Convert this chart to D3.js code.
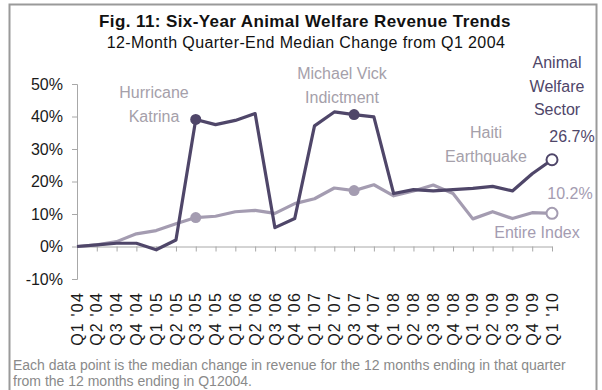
<!DOCTYPE html>
<html>
<head>
<meta charset="utf-8">
<script src="https://cdn.jsdelivr.net/npm/d3@7"></script>
<style>
  html, body { margin: 0; padding: 0; background: #fff; }
  svg { display: block; font-family: "Liberation Sans", Arial, sans-serif; }
</style>
</head>
<body>
<svg id="chart" width="602" height="390"></svg>
<script>
// Quarter-end labels
const quarters = [
  "Q1 '04", "Q2 '04", "Q3 '04", "Q4 '04",
  "Q1 '05", "Q2 '05", "Q3 '05", "Q4 '05",
  "Q1 '06", "Q2 '06", "Q3 '06", "Q4 '06",
  "Q1 '07", "Q2 '07", "Q3 '07", "Q4 '07",
  "Q1 '08", "Q2 '08", "Q3 '08", "Q4 '08",
  "Q1 '09", "Q2 '09", "Q3 '09", "Q4 '09",
  "Q1 '10"
];

// 12-month median revenue change vs Q1 2004 (percent)
const animalWelfare = [
  0, 0.5, 1.0, 1.0, -1.0, 2.0, 39.1, 37.5, 38.8, 40.9, 5.8, 8.6,
  37.1, 41.4, 40.6, 39.9, 16.3, 17.5, 17.1, 17.5, 17.9, 18.5, 17.1, 22.4, 26.7
];
const entireIndex = [
  0, 0.5, 1.5, 3.9, 4.9, 7.0, 8.9, 9.3, 10.7, 11.1, 10.2, 13.2,
  14.7, 18.0, 17.2, 19.0, 15.6, 17.1, 18.9, 16.3, 8.5, 10.7, 8.6, 10.4, 10.2
];

// Y-axis ticks (percent)
const yTicks = [-10, 0, 10, 20, 30, 40, 50];

// Highlighted events (quarter index)
const eventQuarters = [6, 14];

const darkColor = "#4f4669";
const lightColor = "#a49cb1";
const noteColor = "#a5a0aa";

const svg = d3.select("#chart");

// Outer frame
svg.append("rect")
  .attr("x", 9.5).attr("y", 4.5)
  .attr("width", 587).attr("height", 390)
  .attr("fill", "#fff")
  .attr("stroke", "#9a9a9a")
  .attr("stroke-width", 2);

// Titles
svg.append("text")
  .attr("x", 305).attr("y", 27)
  .attr("text-anchor", "middle")
  .attr("font-size", 17).attr("font-weight", "bold")
  .attr("letter-spacing", 0.4)
  .attr("fill", "#111")
  .text("Fig. 11: Six-Year Animal Welfare Revenue Trends");
svg.append("text")
  .attr("x", 306).attr("y", 48)
  .attr("text-anchor", "middle")
  .attr("font-size", 16)
  .attr("letter-spacing", 0.4)
  .attr("fill", "#111")
  .text("12-Month Quarter-End Median Change from Q1 2004");

// Scales
const x = d3.scalePoint()
  .domain(quarters)
  .range([77, 552]);
const y = d3.scaleLinear()
  .domain([-10, 50])
  .range([279, 84]);

const axisColor = "#a8a8a8";

// Y axis
const yAxis = svg.append("g")
  .attr("transform", `translate(${x(quarters[0])},0)`)
  .call(d3.axisLeft(y).tickValues(yTicks).tickSize(5).tickPadding(9)
    .tickFormat(d => d + "%"));
yAxis.select(".domain").attr("stroke", axisColor).attr("stroke-width", 1);
yAxis.selectAll(".tick line").attr("stroke", axisColor);
yAxis.selectAll(".tick text")
  .attr("font-size", 16)
  .attr("font-family", "Liberation Sans, Arial, sans-serif")
  .attr("fill", "#1a1a1a");

// X axis along the zero line
const xAxis = svg.append("g")
  .attr("transform", `translate(0,${y(0)})`)
  .call(d3.axisBottom(x).tickSize(5).tickSizeOuter(0).tickFormat(""));
xAxis.select(".domain").attr("stroke", axisColor).attr("stroke-width", 1);
xAxis.selectAll(".tick line").attr("stroke", axisColor);

// Rotated quarter labels
svg.append("g")
  .selectAll("text")
  .data(quarters)
  .join("text")
  .attr("transform", d => `translate(${x(d)},292) rotate(-90)`)
  .attr("text-anchor", "end")
  .attr("dy", "0.35em")
  .attr("font-size", 16)
  .attr("letter-spacing", 1.2)
  .attr("fill", "#1a1a1a")
  .text(d => d);

// Lines
const line = d3.line()
  .x((d, i) => x(quarters[i]))
  .y(d => y(d));

svg.append("path")
  .datum(entireIndex)
  .attr("d", line)
  .attr("fill", "none")
  .attr("stroke", lightColor)
  .attr("stroke-width", 3.2)
  .attr("stroke-linejoin", "round");

svg.append("path")
  .datum(animalWelfare)
  .attr("d", line)
  .attr("fill", "none")
  .attr("stroke", darkColor)
  .attr("stroke-width", 3.2)
  .attr("stroke-linejoin", "round");

// Event markers
[[entireIndex, lightColor], [animalWelfare, darkColor]].forEach(([series, color]) => {
  svg.append("g")
    .selectAll("circle")
    .data(eventQuarters)
    .join("circle")
    .attr("cx", i => x(quarters[i]))
    .attr("cy", i => y(series[i]))
    .attr("r", 5.5)
    .attr("fill", color);
  // Latest value, open marker
  const last = series.length - 1;
  svg.append("circle")
    .attr("cx", x(quarters[last]))
    .attr("cy", y(series[last]))
    .attr("r", 5.5)
    .attr("fill", "#fff")
    .attr("stroke", color)
    .attr("stroke-width", 2);
});

// Annotations
function label(lines, cx, baseline, color, size) {
  const t = svg.append("text")
    .attr("text-anchor", "middle")
    .attr("font-size", size || 16)
    .attr("fill", color);
  lines.forEach((s, k) => {
    t.append("tspan")
      .attr("x", cx)
      .attr("y", baseline + k * 23.5)
      .text(s);
  });
}

label(["Hurricane", "Katrina"], 154, 98, noteColor);
label(["Michael Vick", "Indictment"], 342, 79, noteColor);
label(["Haiti", "Earthquake"], 486, 138, noteColor);
label(["Animal", "Welfare", "Sector"], 557, 68, darkColor);
label([animalWelfare[animalWelfare.length - 1].toFixed(1) + "%"], 572, 142, darkColor);
label([entireIndex[entireIndex.length - 1].toFixed(1) + "%"], 570, 199, lightColor);
label(["Entire Index"], 537, 238, lightColor);

// Footnote
const foot = svg.append("text")
  .attr("font-size", 14)
  .attr("fill", "#8a8a8a");
foot.append("tspan").attr("x", 13).attr("y", 370)
  .text("Each data point is the median change in revenue for the 12 months ending in that quarter");
foot.append("tspan").attr("x", 13).attr("y", 386)
  .text("from the 12 months ending in Q12004.");
</script>
</body>
</html>
